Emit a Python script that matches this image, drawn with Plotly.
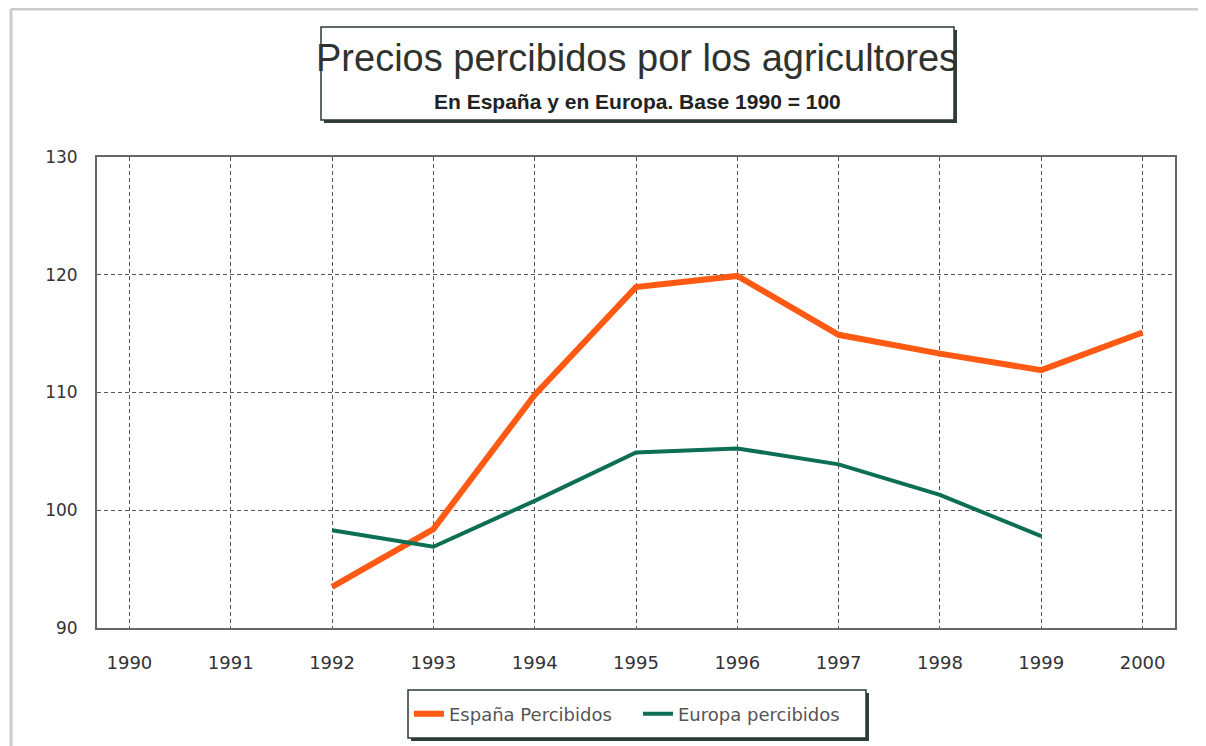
import plotly.graph_objects as go

years_esp = [1992, 1993, 1994, 1995, 1996, 1997, 1998, 1999, 2000]
espana = [93.5, 98.4, 109.8, 118.95, 119.9, 114.9, 113.3, 111.9, 115.1]
years_eur = [1992, 1993, 1994, 1995, 1996, 1997, 1998, 1999]
europa = [98.3, 96.9, 100.8, 104.9, 105.25, 103.9, 101.3, 97.8]
x_ticks = list(range(1990, 2001))
y_ticks = [90, 100, 110, 120, 130]

title = "Precios percibidos por los agricultores"
subtitle = "<b>En España y en Europa. Base 1990 = 100</b>"
names = ["España Percibidos", "Europa percibidos"]

# the page body adds an 8px margin; work in screen coordinates and shift
OFF = 8
W, H = 1206 - OFF, 746 - OFF
L, R, T, B = 97 - OFF, 1175 - OFF, 157 - OFF, 628 - OFF


def px(x):
    return (x - OFF - L) / (R - L)


def py(y):
    return (B - (y - OFF)) / (B - T)


fig = go.Figure()
fig.add_trace(go.Scatter(x=years_esp, y=espana, mode="lines", name=names[0],
                         line=dict(color="#ff5a14", width=6)))
fig.add_trace(go.Scatter(x=years_eur, y=europa, mode="lines", name=names[1],
                         line=dict(color="#0c6e52", width=4)))

shapes = []
# outer frame
shapes.append(dict(type="line", xref="paper", yref="paper", x0=px(11), x1=px(1206),
                   y0=py(9), y1=py(9), line=dict(color="#cccccc", width=3)))
shapes.append(dict(type="line", xref="paper", yref="paper", x0=px(11), x1=px(11),
                   y0=py(9), y1=py(746), line=dict(color="#cccccc", width=3)))
# title box with shadow
shapes.append(dict(type="rect", xref="paper", yref="paper", x0=px(324), x1=px(957),
                   y0=py(30), y1=py(123), fillcolor="#2f3f35", line=dict(width=0)))
shapes.append(dict(type="rect", xref="paper", yref="paper", x0=px(321), x1=px(954),
                   y0=py(27), y1=py(120), fillcolor="white",
                   line=dict(color="#2a3a30", width=1.5)))
# legend box with shadow
shapes.append(dict(type="rect", xref="paper", yref="paper", x0=px(411), x1=px(869),
                   y0=py(693), y1=py(741), fillcolor="#2f3f35", line=dict(width=0)))
shapes.append(dict(type="rect", xref="paper", yref="paper", x0=px(408), x1=px(866),
                   y0=py(690), y1=py(738), fillcolor="white",
                   line=dict(color="#2a3a30", width=1.5)))

annotations = [
    dict(text=title, xref="paper", yref="paper", x=px(637), y=py(58),
         xanchor="center", yanchor="middle", showarrow=False,
         font=dict(family="Arial, Liberation Sans", size=38, color="#2e332f")),
    dict(text=subtitle, xref="paper", yref="paper", x=px(637), y=py(101),
         xanchor="center", yanchor="middle", showarrow=False,
         font=dict(family="Arial, Liberation Sans", size=21, color="#222222")),
]

fig.update_layout(
    width=W, height=H,
    margin=dict(l=L, r=W - R, t=T, b=H - B, pad=0),
    paper_bgcolor="white", plot_bgcolor="white",
    shapes=shapes, annotations=annotations,
    showlegend=True,
    legend=dict(orientation="h", x=px(409), y=py(714), xanchor="left", yanchor="middle",
                bgcolor="rgba(0,0,0,0)", borderwidth=0, itemwidth=30, entrywidth=184,
                font=dict(family="DejaVu Sans", size=18, color="#555555")),
)
fig.update_xaxes(range=[1989.68, 2000.32], tickvals=x_ticks, ticktext=[str(v) for v in x_ticks],
                 showgrid=True, gridcolor="#555555", gridwidth=1, griddash="4px,3px",
                 showline=True, linecolor="#666666", linewidth=2, mirror=True,
                 ticks="", ticklabelstandoff=17, zeroline=False,
                 tickfont=dict(family="DejaVu Sans", size=18, color="#333333"))
fig.update_yaxes(range=[90, 130], tickvals=y_ticks,
                 showgrid=True, gridcolor="#555555", gridwidth=1, griddash="4px,3px",
                 showline=True, linecolor="#666666", linewidth=2, mirror=True,
                 ticks="", ticklabelstandoff=14, zeroline=False,
                 tickfont=dict(family="DejaVu Sans", size=17, color="#333333"))

fig.write_html("out.html")
